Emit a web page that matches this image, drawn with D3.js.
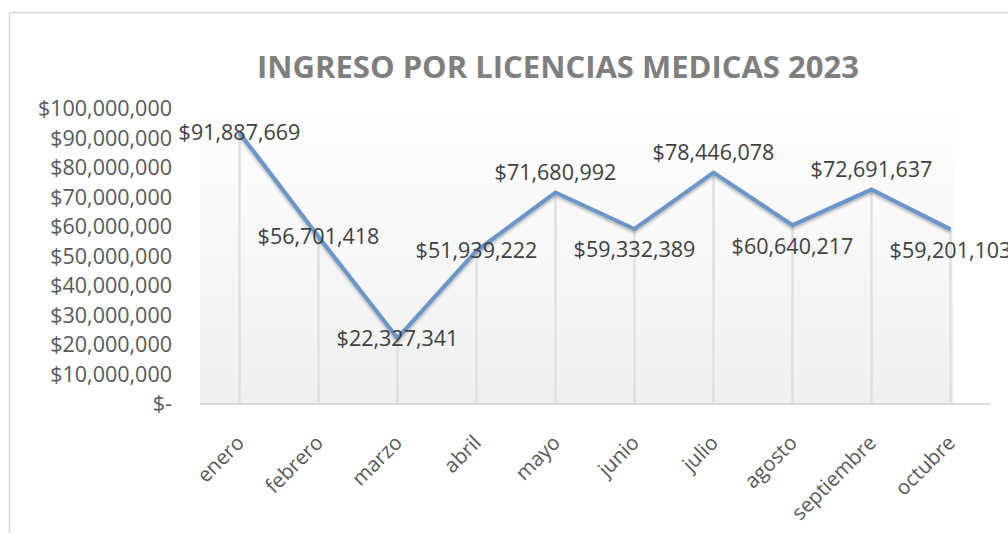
<!DOCTYPE html>
<html>
<head>
<meta charset="utf-8">
<script src="https://cdn.jsdelivr.net/npm/d3@7"></script>
<style>
  body { margin: 0; background: #fff; }
  svg { display: block; }
  text { font-family: "Open Sans", sans-serif; }
</style>
</head>
<body>
<script>
// data
var meses = ["enero", "febrero", "marzo", "abril", "mayo", "junio", "julio", "agosto", "septiembre", "octubre"];
var ingresos = [91887669, 56701418, 22327341, 51939222, 71680992, 59332389, 78446078, 60640217, 72691637, 59201103];
var yTicks = [0, 10000000, 20000000, 30000000, 40000000, 50000000, 60000000, 70000000, 80000000, 90000000, 100000000];
var titulo = "INGRESO POR LICENCIAS MEDICAS 2023";

// where each data label sits relative to its point (c = centre, a = above, b = below)
var lugarEtiqueta = ["c", "c", "c", "c", "a", "b", "a", "b", "a", "b"];
var despl = {c: 0, a: -20, b: 21};

var W = 1008, H = 533;
var margin = {top: 109, right: 18, bottom: 129, left: 200},
    width = W - margin.left - margin.right,
    height = H - margin.top - margin.bottom;

var svg = d3.select("body").append("svg")
    .attr("width", W)
    .attr("height", H);

// outer chart border
svg.append("rect")
    .attr("x", 9.5).attr("y", 12.5)
    .attr("width", W).attr("height", H)
    .attr("fill", "#fff")
    .attr("stroke", "#d9d9d9")
    .attr("stroke-width", 1.5);

var defs = svg.append("defs");
var grad = defs.append("linearGradient")
    .attr("id", "fondo").attr("x1", 0).attr("y1", 0).attr("x2", 0).attr("y2", 1);
grad.append("stop").attr("offset", "0%").attr("stop-color", "#ffffff");
grad.append("stop").attr("offset", "100%").attr("stop-color", "#efefef");

var shadow = defs.append("filter").attr("id", "sombra")
    .attr("x", "-10%").attr("y", "-10%").attr("width", "120%").attr("height", "130%");
shadow.append("feGaussianBlur").attr("in", "SourceAlpha").attr("stdDeviation", 1.5);
shadow.append("feOffset").attr("dx", 0).attr("dy", 2).attr("result", "b");
shadow.append("feComponentTransfer").append("feFuncA").attr("type", "linear").attr("slope", 0.3);
var mrg = shadow.append("feMerge");
mrg.append("feMergeNode");
mrg.append("feMergeNode").attr("in", "SourceGraphic");

var g = svg.append("g")
    .attr("transform", "translate(" + margin.left + "," + margin.top + ")");

var x = d3.scaleBand().domain(meses).range([0, width]);
var y = d3.scaleLinear().domain([0, 100000000]).range([height, 0]);
var cx = function(d, i) { return x(meses[i]) + x.bandwidth() / 2; };

// plot area wall
g.append("rect")
    .attr("x", 0)
    .attr("y", 0)
    .attr("width", x(meses[meses.length - 1]) + x.bandwidth() / 2 + 3)
    .attr("height", height)
    .attr("fill", "url(#fondo)");

// drop lines
g.selectAll(".drop")
    .data(ingresos)
  .enter().append("line")
    .attr("class", "drop")
    .attr("x1", cx).attr("x2", cx)
    .attr("y1", function(d) { return y(d); })
    .attr("y2", height)
    .attr("stroke", "#e0e0e0")
    .attr("stroke-width", 2.5);

// category axis line
g.append("line")
    .attr("x1", 0).attr("x2", width)
    .attr("y1", height).attr("y2", height)
    .attr("stroke", "#d9d9d9")
    .attr("stroke-width", 2);

// y axis
var yAxis = d3.axisLeft(y)
    .tickValues(yTicks)
    .tickSize(0)
    .tickPadding(28)
    .tickFormat(function(d) { return d === 0 ? "$-" : "$" + d3.format(",")(d); });
var ya = g.append("g").call(yAxis);
ya.select(".domain").remove();
ya.selectAll("text")
    .attr("fill", "#595959")
    .style("font-size", "21.5px")
    .style("font-family", "'Open Sans', sans-serif");

// x labels
g.selectAll(".mes")
    .data(meses)
  .enter().append("text")
    .attr("class", "mes")
    .attr("transform", function(d) {
      return "translate(" + (x(d) + x.bandwidth() / 2 + 6) + "," + (height + 40) + ") rotate(-45)";
    })
    .attr("text-anchor", "end")
    .attr("fill", "#595959")
    .style("font-size", "20.5px")
    .text(function(d) { return d; });

// line
var line = d3.line()
    .x(cx)
    .y(function(d) { return y(d); });

g.append("path")
    .datum(ingresos)
    .attr("d", line)
    .attr("fill", "none")
    .attr("stroke", "#6b96c9")
    .attr("stroke-width", 4)
    .attr("stroke-linejoin", "miter")
    .attr("filter", "url(#sombra)");

// data labels
g.selectAll(".etq")
    .data(ingresos)
  .enter().append("text")
    .attr("class", "etq")
    .attr("x", cx)
    .attr("y", function(d, i) { return y(d) + despl[lugarEtiqueta[i]]; })
    .attr("dy", "0.35em")
    .attr("text-anchor", "middle")
    .attr("fill", "#404040")
    .style("font-size", "21.5px")
    .text(function(d) { return "$" + d3.format(",")(d); });

// title
svg.append("text")
    .attr("x", 558)
    .attr("y", 78)
    .attr("text-anchor", "middle")
    .attr("fill", "#7f7f7f")
    .style("font-size", "31px")
    .style("font-weight", "bold")
    .text(titulo);
</script>
</body>
</html>
